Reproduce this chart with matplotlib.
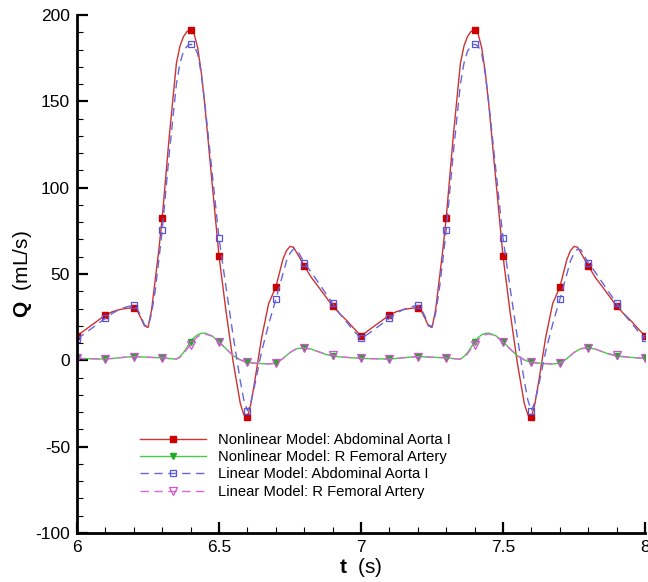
import matplotlib
matplotlib.use("Agg")
import matplotlib.pyplot as plt
import numpy as np

plt.rcParams['font.family'] = ['Liberation Sans', 'DejaVu Sans']
plt.rcParams['mathtext.fontset'] = 'custom'
plt.rcParams['mathtext.rm'] = 'Liberation Sans'
plt.rcParams['mathtext.bf'] = 'Liberation Sans:bold'
plt.rcParams['axes.unicode_minus'] = False

# time samples (s); extra samples near peaks/troughs
t = [
    6.0, 6.025, 6.05, 6.075, 6.1, 6.125, 6.15, 6.175, 6.2, 6.2125, 6.225, 6.2375,
    6.25, 6.2625, 6.275, 6.2875, 6.3, 6.325, 6.35, 6.3625, 6.375, 6.3875, 6.4,
    6.4125, 6.425, 6.4375, 6.45, 6.475, 6.5, 6.525, 6.55, 6.575, 6.5875, 6.6,
    6.6125, 6.625, 6.65, 6.675, 6.7, 6.725, 6.7375, 6.75, 6.7625, 6.775, 6.8,
    6.825, 6.85, 6.875, 6.9, 6.925, 6.95, 6.975,
    7.0, 7.025, 7.05, 7.075, 7.1, 7.125, 7.15, 7.175, 7.2, 7.2125, 7.225, 7.2375,
    7.25, 7.2625, 7.275, 7.2875, 7.3, 7.325, 7.35, 7.3625, 7.375, 7.3875, 7.4,
    7.4125, 7.425, 7.4375, 7.45, 7.475, 7.5, 7.525, 7.55, 7.575, 7.5875, 7.6,
    7.6125, 7.625, 7.65, 7.675, 7.7, 7.725, 7.7375, 7.75, 7.7625, 7.775, 7.8,
    7.825, 7.85, 7.875, 7.9, 7.925, 7.95, 7.975, 8.0,
]

# Nonlinear Model: Abdominal Aorta I (mL/s)
nl_aorta = [
    14.2, 17.2, 20.2, 23.2, 26.2, 28.2, 29.4, 30.1, 30.5, 28.5, 24.5, 20.0,
    19.0, 29.0, 46.0, 63.0, 82.4, 130.0, 172.0, 182.0, 187.5, 190.5, 191.4,
    189.0, 181.0, 167.0, 148.0, 104.0, 60.4, 28.0, -1.0, -25.0, -31.5, -33.0,
    -25.0, -13.0, 13.0, 33.0, 42.3, 58.5, 63.5, 66.0, 65.5, 62.0, 54.8,
    48.0, 42.6, 37.0, 31.4, 27.0, 23.0, 18.5,
    14.1, 17.2, 20.2, 23.2, 26.2, 28.2, 29.4, 30.1, 30.5, 28.5, 24.5, 20.0,
    19.0, 29.0, 46.0, 63.0, 82.4, 130.0, 172.0, 182.0, 187.5, 190.5, 191.4,
    189.0, 181.0, 167.0, 148.0, 104.0, 60.4, 28.0, -1.0, -25.0, -31.5, -33.0,
    -25.0, -13.0, 13.0, 33.0, 42.3, 58.5, 63.5, 66.0, 65.5, 62.0, 54.8,
    48.0, 42.6, 37.0, 31.4, 27.0, 23.0, 18.5, 14.1,
]

# Nonlinear Model: R Femoral Artery
nl_femoral = [
    1.2, 1.0, 0.9, 0.8, 0.8, 1.1, 1.5, 1.9, 2.1, 2.1, 2.0, 1.9,
    1.8, 1.7, 1.6, 1.55, 1.5, 1.0, 0.7, 2.2, 4.5, 7.5, 10.8,
    13.2, 14.8, 15.6, 15.8, 14.2, 10.8, 6.6, 2.7, 0.3, -0.6, -1.2,
    -1.4, -1.6, -1.9, -2.1, -1.7, 1.0, 2.8, 4.5, 5.8, 6.8, 7.2,
    6.5, 5.0, 3.5, 2.5, 2.0, 1.7, 1.4,
    1.2, 1.0, 0.9, 0.8, 0.8, 1.1, 1.5, 1.9, 2.1, 2.1, 2.0, 1.9,
    1.8, 1.7, 1.6, 1.55, 1.5, 1.0, 0.7, 2.2, 4.5, 7.5, 10.8,
    13.2, 14.8, 15.6, 15.8, 14.2, 10.8, 6.6, 2.7, 0.3, -0.6, -1.2,
    -1.4, -1.6, -1.9, -2.1, -1.7, 1.0, 2.8, 4.5, 5.8, 6.8, 7.2,
    6.5, 5.0, 3.5, 2.5, 2.0, 1.7, 1.4, 1.2,
]

# Linear Model: Abdominal Aorta I
l_aorta = [
    12.3, 15.3, 18.3, 21.3, 24.3, 27.3, 29.5, 31.0, 31.8, 29.8, 25.5, 20.5,
    19.5, 27.0, 40.0, 57.0, 75.4, 120.0, 160.0, 172.0, 179.0, 182.0, 183.1,
    182.0, 177.5, 166.0, 149.0, 110.0, 70.8, 42.0, 14.0, -12.0, -23.0, -29.2,
    -24.0, -15.0, 5.0, 21.0, 35.3, 50.0, 57.5, 62.0, 64.5, 64.0, 56.5,
    51.0, 45.0, 39.0, 33.0, 27.0, 22.0, 17.0,
    12.7, 15.3, 18.3, 21.3, 24.3, 27.3, 29.5, 31.0, 31.8, 29.8, 25.5, 20.5,
    19.5, 27.0, 40.0, 57.0, 75.4, 120.0, 160.0, 172.0, 179.0, 182.0, 183.1,
    182.0, 177.5, 166.0, 149.0, 110.0, 70.8, 42.0, 14.0, -12.0, -23.0, -29.2,
    -24.0, -15.0, 5.0, 21.0, 35.3, 50.0, 57.5, 62.0, 64.5, 64.0, 56.5,
    51.0, 45.0, 39.0, 33.0, 27.0, 22.0, 17.0, 12.7,
]

# Linear Model: R Femoral Artery
l_femoral = [
    1.2, 1.0, 0.9, 0.8, 0.8, 1.1, 1.5, 1.9, 2.1, 2.1, 2.0, 1.9,
    1.8, 1.7, 1.6, 1.55, 1.5, 1.0, 0.7, 1.7, 3.8, 6.5, 9.0,
    11.8, 13.8, 14.8, 15.3, 14.0, 10.5, 6.6, 2.7, 0.3, -0.6, -1.2,
    -1.4, -1.6, -1.9, -2.1, -1.7, 1.0, 2.8, 4.5, 5.8, 6.8, 7.2,
    6.5, 5.0, 3.7, 3.0, 2.2, 1.7, 1.4,
    1.2, 1.0, 0.9, 0.8, 0.8, 1.1, 1.5, 1.9, 2.1, 2.1, 2.0, 1.9,
    1.8, 1.7, 1.6, 1.55, 1.5, 1.0, 0.7, 1.7, 3.8, 6.5, 9.0,
    11.8, 13.8, 14.8, 15.3, 14.0, 10.5, 6.6, 2.7, 0.3, -0.6, -1.2,
    -1.4, -1.6, -1.9, -2.1, -1.7, 1.0, 2.8, 4.5, 5.8, 6.8, 7.2,
    6.5, 5.0, 3.7, 3.0, 2.2, 1.7, 1.4, 1.2,
]

labels = [
    "Nonlinear Model: Abdominal Aorta I",
    "Nonlinear Model: R Femoral Artery",
    "Linear Model: Abdominal Aorta I",
    "Linear Model: R Femoral Artery",
]

tt = np.array(t)
# markers every 0.1 s
mk = [i for i, v in enumerate(tt) if abs(v * 10 - round(v * 10)) < 1e-6]

fig = plt.figure(figsize=(6.48, 5.82), dpi=100)
ax = fig.add_axes([77/648, 49/582, 568/648, 518/582])

ax.plot(tt, nl_aorta, color='#cc3333', lw=1.0, marker='s', ms=4.5,
        mfc='#cc0000', mec='#cc0000', markevery=mk, label=labels[0])
ax.plot(tt, nl_femoral, color='#44cc44', lw=1.0, marker='v', ms=5,
        mfc='#22aa22', mec='#22aa22', markevery=mk, label=labels[1])
ax.plot(tt, l_aorta, color='#6666dd', lw=1.0, ls=(0, (6, 4)), marker='s', ms=5,
        mfc='none', mec='#5555dd', mew=0.9, markevery=mk, label=labels[2])
ax.plot(tt, l_femoral, color='#dd66dd', lw=1.0, ls=(0, (6, 4)), marker='v', ms=5.5,
        mfc='none', mec='#cc55cc', mew=0.9, markevery=mk, label=labels[3])

ax.set_xlim(6, 8)
ax.set_ylim(-100, 200)
ax.set_xticks([6, 6.5, 7, 7.5, 8])
ax.set_xticklabels(['6', '6.5', '7', '7.5', '8'])
ax.set_yticks([-100, -50, 0, 50, 100, 150, 200])
ax.set_xticks(np.arange(6, 8.001, 0.1), minor=True)
ax.set_yticks(np.arange(-100, 200.1, 10), minor=True)
ax.tick_params(which='major', direction='in', length=8, width=1.6, labelsize=12.5)
ax.tick_params(which='minor', direction='in', length=4.5, width=0.8)
ax.tick_params(axis='y', which='major', pad=5)
ax.tick_params(axis='x', which='major', pad=5)
for s in ['top', 'right']:
    ax.spines[s].set_visible(False)
for s in ['left', 'bottom']:
    ax.spines[s].set_linewidth(2.0)
ax.patch.set_visible(False)

ax.set_ylabel(r'$\mathbf{Q}$  (mL/s)', fontsize=15)
ax.set_xlabel(r'$\mathbf{t}$  (s)', fontsize=15)
ax.yaxis.set_label_coords(-0.076, 0.5)
ax.xaxis.set_label_coords(0.5, -0.045)

leg = fig.legend(loc='upper left', bbox_to_anchor=(140/648, 1 - 433/582),
                 bbox_transform=fig.transFigure, frameon=False, fontsize=10.6,
                 handlelength=4.5, handletextpad=0.8, labelspacing=0.22,
                 borderpad=0, borderaxespad=0, numpoints=1)

fig.savefig('out.png', dpi=100)
